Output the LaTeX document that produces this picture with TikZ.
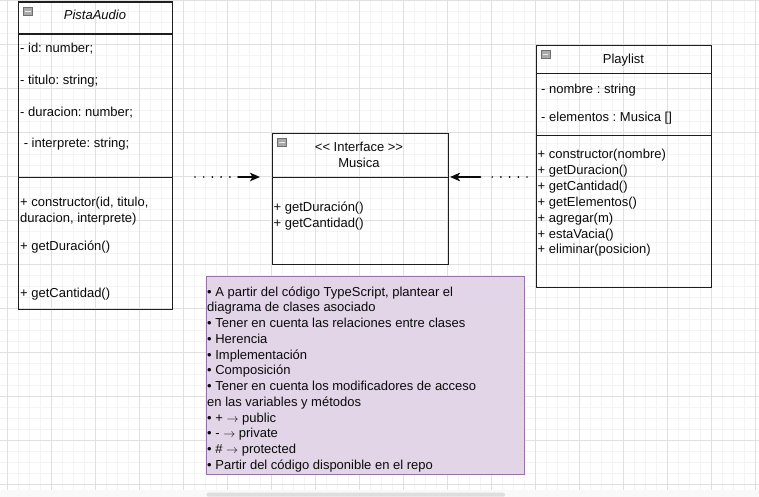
\documentclass[tikz,border=0pt]{standalone}
\usepackage{fontspec}
\setmainfont{Liberation Sans}
\usetikzlibrary{arrows.meta}
\frenchspacing

\definecolor{cMinor}{RGB}{244,244,244}
\definecolor{cMajor}{RGB}{224,224,224}
\definecolor{cStrip}{RGB}{249,249,249}
\definecolor{cThumb}{RGB}{222,222,222}
\definecolor{cBox}{RGB}{30,30,30}
\definecolor{cInk}{RGB}{10,10,10}
\definecolor{cNoteFill}{HTML}{E1D5E7}
\definecolor{cNoteDraw}{HTML}{9673A6}
\definecolor{cIconFill}{RGB}{170,170,170}
\definecolor{cIconEdge}{RGB}{110,110,110}
\definecolor{cIconBar}{RGB}{235,235,235}

% long thin arrow used in the access modifier legend
\newcommand{\legendarrow}{\ensuremath{\rightarrow}}

\begin{document}
\begin{tikzpicture}[x=1pt,y=-1pt,
  minorline/.style={draw=cMinor, line width=1pt},
  majorline/.style={draw=cMajor, line width=1pt},
  compartment/.style={rectangle, draw=cBox, line width=1.1pt, inner sep=0pt, anchor=north west},
  notebox/.style={rectangle, draw=cNoteDraw, fill=cNoteFill, line width=1pt, inner sep=0pt, anchor=north west},
  txt/.style={font=\fontsize{13}{15.7}\selectfont, text=cInk, inner sep=0pt, anchor=base west},
  ttl/.style={txt, anchor=base},
  icon/.style={rectangle, anchor=north west, minimum width=9pt, minimum height=8pt, inner sep=0pt,
    draw=cIconEdge, fill=cIconFill, line width=0.6pt,
    path picture={\draw[cIconBar, line width=1.4pt]
      ([xshift=1.8pt]path picture bounding box.west) -- ([xshift=-1.8pt]path picture bounding box.east);}},
  dotarrow/.style={draw=cInk, line width=1.9pt, line cap=round,
    dash pattern=on 0pt off 8.7pt on 0pt off 8.7pt on 0pt off 8.7pt on 0pt off 8.7pt on 0pt off #1 on 80pt,
    -{Stealth[length=10pt, width=8.5pt, inset=2.5pt]}}
]
\useasboundingbox (0,0) rectangle (759,497);

% background grid
\fill[white] (0,0) rectangle (759,490);
\foreach \k in {0,...,68} { \draw[minorline] ({7.3+11*\k},0) -- ({7.3+11*\k},490); }
\foreach \k in {0,...,44} { \draw[minorline] (0,{0.3+11*\k}) -- (759,{0.3+11*\k}); }
\foreach \k in {0,...,17} { \draw[majorline] ({7.3+44*\k},0) -- ({7.3+44*\k},490); }
\foreach \k in {0,...,11} { \draw[majorline] (0,{0.3+44*\k}) -- (759,{0.3+44*\k}); }

% bottom strip with scroll thumb
\fill[cStrip] (0,490) rectangle (759,497);
\fill[cThumb, rounded corners=2pt] (206.5,492.7) rectangle (505,496.7);

% class PistaAudio
\node[compartment, minimum width=154pt, minimum height=32pt] (paHead) at (18,1.5) {};
\node[compartment, minimum width=154pt, minimum height=143.5pt] (paAttr) at (18,33.5) {};
\node[compartment, minimum width=154pt, minimum height=131.5pt] (paMeth) at (18,177) {};
\node[icon] (paIcon) at (23,7) {};
\node[ttl, font=\fontsize{13}{15.7}\selectfont\itshape] (paTitle) at (95,20) {PistaAudio};
\node[txt] (paA1) at (20,53) {- id: number;};
\node[txt] (paA2) at (20,85) {- titulo: string;};
\node[txt] (paA3) at (20,116.5) {- duracion: number;};
\node[txt] (paA4) at (20,148) {\ - interprete: string;};
\node[txt] (paM1) at (20,206.5) {+ constructor(id, titulo,};
\node[txt] (paM2) at (20,222.3) {duracion, interprete)};
\node[txt] (paM3) at (20,250.5) {+ getDuración()};
\node[txt] (paM4) at (20,297) {+ getCantidad()};

% interface Musica
\node[compartment, minimum width=176pt, minimum height=44pt] (muHead) at (272,133) {};
\node[compartment, minimum width=176pt, minimum height=87pt] (muMeth) at (272,177) {};
\node[icon] (muIcon) at (277,138.5) {};
\node[ttl] (muStereo) at (359,151.7) {<\kern0pt< Interface >\kern0pt>};
\node[ttl] (muTitle) at (359,167.7) {Musica};
\node[txt] (muM1) at (273.5,211.7) {+ getDuración()};
\node[txt] (muM2) at (273.5,227.4) {+ getCantidad()};

% class Playlist
\node[compartment, minimum width=175pt, minimum height=28pt] (plHead) at (536,45) {};
\node[compartment, minimum width=175pt, minimum height=62pt] (plAttr) at (536,73) {};
\node[compartment, minimum width=175pt, minimum height=152pt] (plMeth) at (536,135) {};
\node[icon] (plIcon) at (540.5,50) {};
\node[ttl] (plTitle) at (623.5,64) {Playlist};
\node[txt] (plA1) at (541,93.3) {- nombre : string};
\node[txt] (plA2) at (541,121.7) {- elementos : Musica []};
\foreach [count=\i from 0] \t in {{+ constructor(nombre)}, {+ getDuracion()}, {+ getCantidad()},
    {+ getElementos()}, {+ agregar(m)}, {+ estaVacia()}, {+ eliminar(posicion)}}
  { \node[txt] (plM\i) at (537.5,{159+15.8*\i}) {\t}; }

% note
\node[notebox, minimum width=318pt, minimum height=198pt] (note) at (206,276) {};
\foreach [count=\i from 0] \t in {
    {• A partir del código TypeScript, plantear el},
    {diagrama de clases asociado},
    {• Tener en cuenta las relaciones entre clases},
    {• Herencia},
    {• Implementación},
    {• Composición},
    {• Tener en cuenta los modificadores de acceso},
    {en las variables y métodos},
    {• + \legendarrow{} public},
    {• - \legendarrow{} private},
    {• \# \legendarrow{} protected},
    {• Partir del código disponible en el repo}}
  { \node[txt] (noteL\i) at (207,{296+15.75*\i}) {\t}; }

% realization connectors
\coordinate (lStart) at (195,177);
\coordinate (lTip) at (260,177);
\coordinate (rStart) at (527,177);
\coordinate (rTip) at (450,177);
\draw[dotarrow=8.2pt] (lStart) -- (lTip);
\draw[dotarrow=11.7pt] (rStart) -- (rTip);
\end{tikzpicture}
\end{document}
